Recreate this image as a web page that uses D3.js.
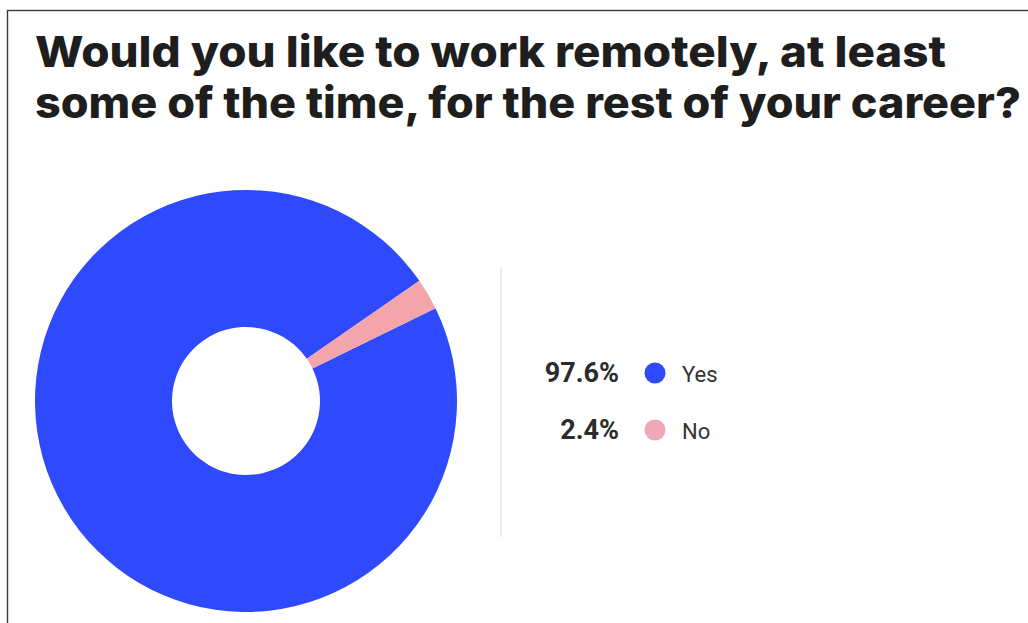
<!DOCTYPE html>
<html>
<head>
<meta charset="utf-8">
<script src="https://cdn.jsdelivr.net/npm/d3@7"></script>
<style>
  html, body { margin: 0; padding: 0; background: #fff; }
  svg { display: block; }
</style>
</head>
<body>
<svg id="chart" width="1028" height="623"></svg>
<script>
// Survey answers
const categories = ["Yes", "No"];
const shares = [97.6, 2.4];
const shareLabels = ["97.6%", "2.4%"];
const colors = ["#2f49fd", "#f3a5ab"];
const legendDotColors = ["#2f49fd", "#f0a8b6"];
const titleLines = [
  "Would you like to work remotely, at least",
  "some of the time, for the rest of your career?"
];

const svg = d3.select("#chart");

// Frame line on the top and left edges
svg.append("rect")
  .attr("x", 7.5).attr("y", 10.5)
  .attr("width", 1100).attr("height", 700)
  .attr("fill", "none")
  .attr("stroke", "#3a3a3a")
  .attr("stroke-width", 1.4);

// Title
const titleWidths = [911, 986];
const titleY = [67, 118];
svg.selectAll("text.title")
  .data(titleLines)
  .join("text")
  .attr("class", "title")
  .attr("x", 35)
  .attr("y", (d, i) => titleY[i])
  .attr("textLength", (d, i) => titleWidths[i])
  .attr("lengthAdjust", "spacingAndGlyphs")
  .attr("font-family", "Inter, 'Noto Sans', sans-serif")
  .attr("font-weight", 800)
  .attr("font-size", 43)
  .attr("fill", "#1e1e1e")
  .text(d => d);

// Donut
const cx = 246, cy = 401, outerR = 211, innerR = 74;
const start = 63.9 * Math.PI / 180;
const pie = d3.pie().sort(null).value(d => d)
  .startAngle(start).endAngle(start + 2 * Math.PI);
const arc = d3.arc().innerRadius(innerR).outerRadius(outerR);

svg.append("g")
  .attr("transform", `translate(${cx},${cy})`)
  .selectAll("path")
  .data(pie(shares))
  .join("path")
  .attr("d", arc)
  .attr("fill", (d, i) => colors[i]);

// Divider
svg.append("line")
  .attr("x1", 501).attr("x2", 501)
  .attr("y1", 267).attr("y2", 537)
  .attr("stroke", "#ececec")
  .attr("stroke-width", 2);

// Legend
const rowY = d3.scalePoint().domain(categories).range([382, 439]);
const legend = svg.append("g").selectAll("g")
  .data(categories)
  .join("g")
  .attr("transform", d => `translate(0,${rowY(d)})`);

legend.append("text")
  .attr("x", 619)
  .attr("text-anchor", "end")
  .attr("font-family", "Roboto, sans-serif")
  .attr("font-weight", 700)
  .attr("font-size", 27)
  .attr("fill", "#2b2b2b")
  .text((d, i) => shareLabels[i]);

legend.append("circle")
  .attr("cx", 655)
  .attr("cy", -9)
  .attr("r", 10.5)
  .attr("fill", (d, i) => legendDotColors[i]);

legend.append("text")
  .attr("x", 682)
  .attr("font-family", "Roboto, sans-serif")
  .attr("font-weight", 400)
  .attr("font-size", 22)
  .attr("fill", "#333")
  .text(d => d);
</script>
</body>
</html>
